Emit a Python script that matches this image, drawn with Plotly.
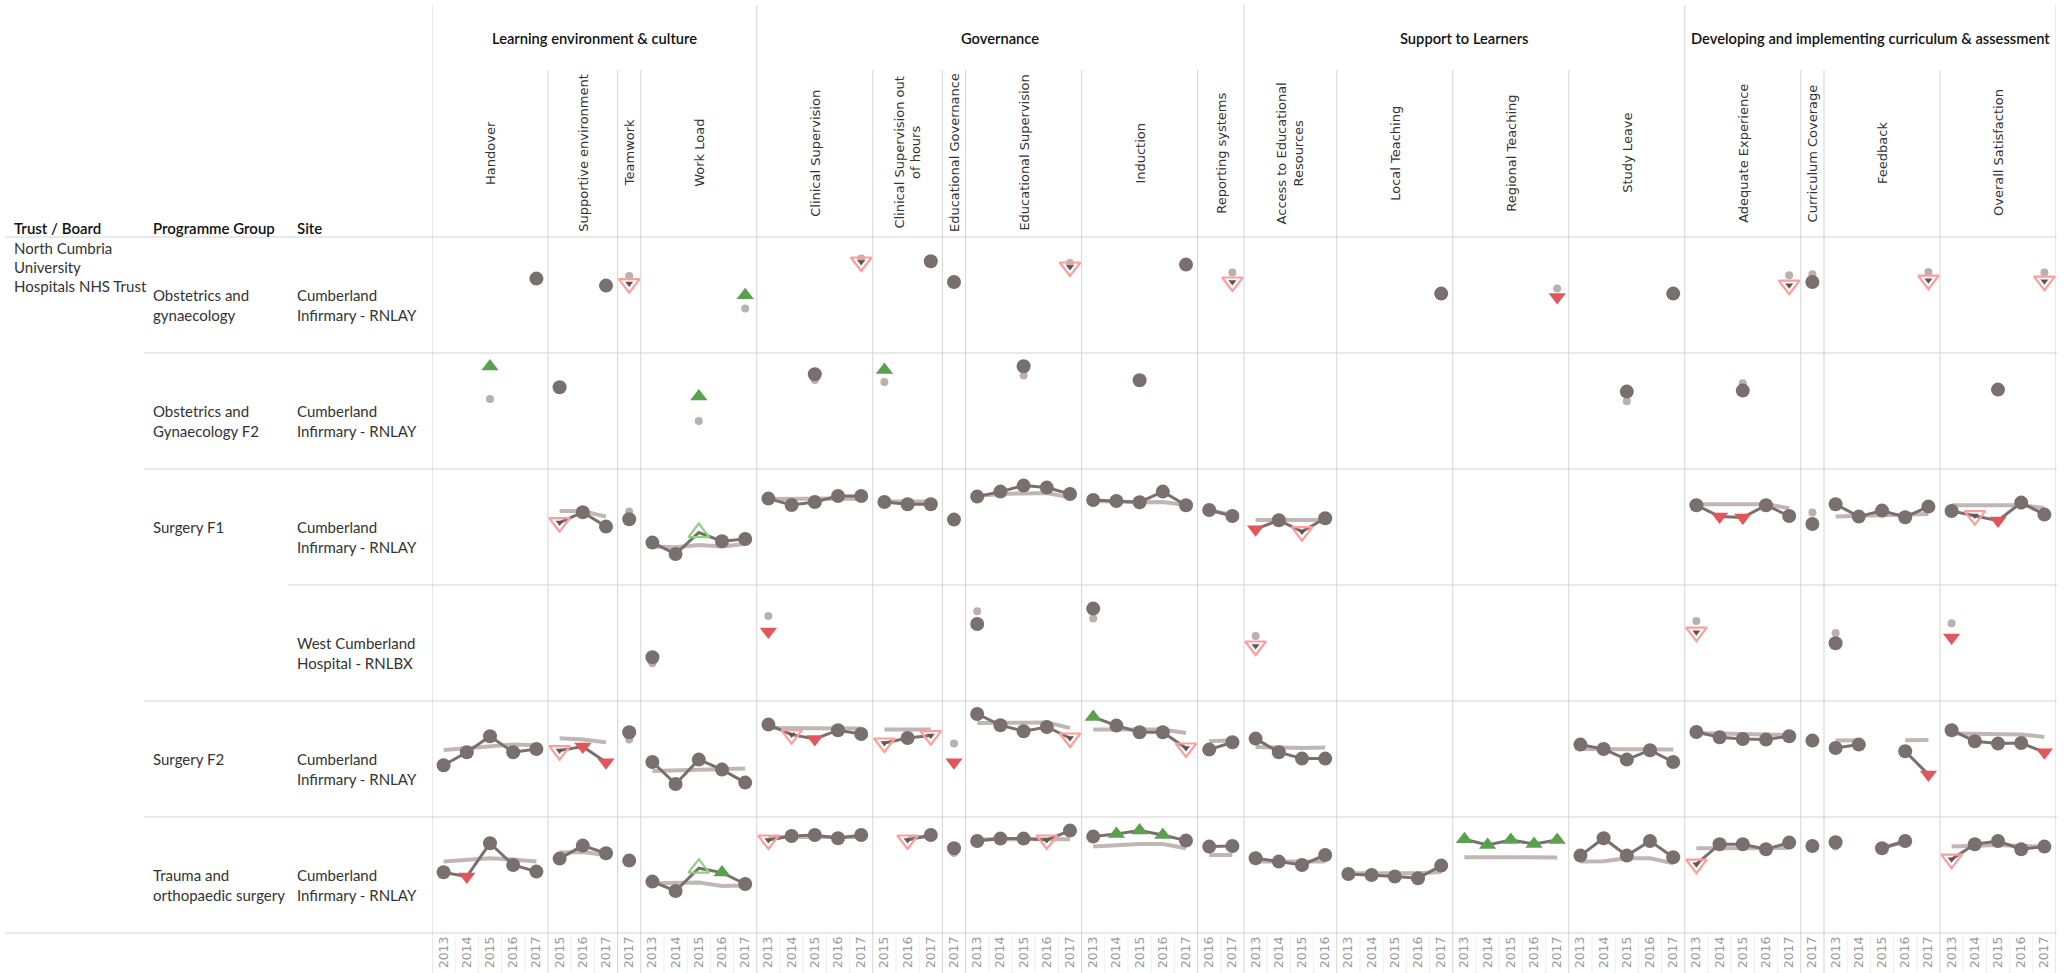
import plotly.graph_objects as go

# ---------------- data ----------------
MEASURE_KEYS = ["HO", "SE", "TW", "WL", "CS", "CO", "EG", "ES", "IN", "RS",
                "AE", "LT", "RT", "SL", "AX", "CC", "FB", "OS"]
MEASURE_LABELS = {
    "HO": "Handover", "SE": "Supportive environment", "TW": "Teamwork",
    "WL": "Work Load", "CS": "Clinical Supervision",
    "CO": "Clinical Supervision out<br>of hours", "EG": "Educational Governance",
    "ES": "Educational Supervision", "IN": "Induction", "RS": "Reporting systems",
    "AE": "Access to Educational<br>Resources", "LT": "Local Teaching",
    "RT": "Regional Teaching", "SL": "Study Leave", "AX": "Adequate Experience",
    "CC": "Curriculum Coverage", "FB": "Feedback", "OS": "Overall Satisfaction",
}
Y5 = [2013, 2014, 2015, 2016, 2017]
MEASURE_YEARS = {
    "HO": Y5, "SE": [2015, 2016, 2017], "TW": [2017], "WL": Y5, "CS": Y5,
    "CO": [2015, 2016, 2017], "EG": [2017], "ES": Y5, "IN": Y5, "RS": [2016, 2017],
    "AE": [2013, 2014, 2015, 2016], "LT": Y5, "RT": Y5, "SL": Y5, "AX": Y5,
    "CC": [2017], "FB": Y5, "OS": Y5,
}
GROUPS = [
    ("Learning environment & culture", ["HO", "SE", "TW", "WL"]),
    ("Governance", ["CS", "CO", "EG", "ES", "IN", "RS"]),
    ("Support to Learners", ["AE", "LT", "RT", "SL"]),
    ("Developing and implementing curriculum & assessment", ["AX", "CC", "FB", "OS"]),
]

TRUST_NAME = ["North Cumbria", "University", "Hospitals NHS Trust"]
PROGRAMMES = [["Obstetrics and", "gynaecology"], ["Obstetrics and", "Gynaecology F2"],
              ["Surgery F1"], [], ["Surgery F2"], ["Trauma and", "orthopaedic surgery"]]
SITES = [["Cumberland", "Infirmary - RNLAY"], ["Cumberland", "Infirmary - RNLAY"],
         ["Cumberland", "Infirmary - RNLAY"], ["West Cumberland", "Hospital - RNLBX"],
         ["Cumberland", "Infirmary - RNLAY"], ["Cumberland", "Infirmary - RNLAY"]]

# (trust score, national average, flag)
R1 = {
    "HO": {2017: (79.2, 79.0, "c")}, "SE": {2017: (75.7, 75.5, "c")},
    "TW": {2017: (76.7, 80.5, "dno")}, "WL": {2017: (70.9, 64.2, "up")},
    "CS": {2017: (87.5, 89.2, "dno")}, "CO": {2017: (87.9, 87.7, "c")},
    "EG": {2017: (77.5, 77.3, "c")}, "ES": {2017: (85.0, 87.0, "dno")},
    "IN": {2017: (86.2, 86.0, "c")}, "RS": {2017: (77.5, 82.2, "dno")},
    "LT": {2017: (71.7, 71.5, "c")}, "RT": {2017: (70.0, 74.2, "dn")},
    "SL": {2017: (71.7, 71.5, "c")}, "AX": {2017: (75.9, 80.9, "dno")},
    "CC": {2017: (77.5, 81.4, "c")}, "FB": {2017: (78.4, 82.5, "dno")},
    "OS": {2017: (77.9, 82.2, "dno")},
}
R2 = {
    "HO": {2015: (93.2, 77.0, "up")}, "SE": {2015: (82.9, 82.7, "c")},
    "WL": {2015: (78.2, 66.0, "up")}, "CS": {2015: (89.4, 86.5, "c")},
    "CO": {2015: (91.5, 85.5, "up")}, "ES": {2015: (93.4, 88.7, "c")},
    "IN": {2015: (86.4, 86.2, "c")}, "SL": {2015: (80.7, 75.9, "c")},
    "AX": {2015: (81.2, 84.9, "c")}, "OS": {2015: (81.7, 81.5, "c")},
}
R3 = {
    "SE": {2015: (73.2, 79.0, "dno"), 2016: (78.4, 79.0, "c"), 2017: (71.2, 76.2, "c")},
    "TW": {2017: (74.9, 78.7, "c")},
    "WL": {2013: (63.2, 61.2, "c"), 2014: (57.5, 60.9, "c"), 2015: (68.2, 62.0, "upo"),
           2016: (63.9, 61.2, "c"), 2017: (65.0, 62.5, "c")},
    "CS": {2013: (85.2, 85.0, "c"), 2014: (82.0, 85.2, "c"), 2015: (83.5, 85.3, "c"),
           2016: (86.5, 85.2, "c"), 2017: (86.5, 85.0, "c")},
    "CO": {2015: (83.5, 83.7, "c"), 2016: (82.4, 83.7, "c"), 2017: (82.4, 83.7, "c")},
    "EG": {2017: (74.7, 74.5, "c")},
    "ES": {2013: (86.2, 86.5, "c"), 2014: (88.7, 87.5, "c"), 2015: (91.7, 87.8, "c"),
           2016: (90.7, 88.0, "c"), 2017: (87.5, 85.8, "c")},
    "IN": {2013: (84.5, 84.0, "c"), 2014: (84.0, 83.5, "c"), 2015: (83.4, 83.4, "c"),
           2016: (88.7, 83.5, "c"), 2017: (81.9, 82.0, "c")},
    "RS": {2016: (79.5, 79.5, "c"), 2017: (76.5, 77.0, "c")},
    "AE": {2013: (69.9, 74.5, "dn"), 2014: (74.4, 74.5, "c"), 2015: (68.7, 74.5, "dno"),
           2016: (75.4, 74.5, "c")},
    "AX": {2013: (81.9, 82.4, "c"), 2014: (76.2, 82.5, "dn"), 2015: (75.7, 82.8, "dn"),
           2016: (81.9, 82.4, "c"), 2017: (76.5, 80.4, "c")},
    "CC": {2017: (72.5, 78.2, "c")},
    "FB": {2013: (82.4, 76.2, "c"), 2014: (76.2, 76.5, "c"), 2015: (79.2, 77.0, "c"),
           2016: (75.9, 77.3, "c"), 2017: (81.2, 77.5, "c")},
    "OS": {2013: (79.0, 81.9, "c"), 2014: (76.7, 82.0, "dno"), 2015: (74.2, 82.0, "dn"),
           2016: (83.2, 81.9, "c"), 2017: (77.2, 80.5, "c")},
}
R4 = {
    "WL": {2013: (63.9, 60.9, "c")}, "CS": {2013: (76.7, 84.5, "dn")},
    "ES": {2013: (80.5, 86.9, "c")}, "IN": {2013: (88.2, 83.2, "c")},
    "AE": {2013: (69.5, 74.5, "dno")}, "AX": {2013: (76.4, 82.0, "dno")},
    "FB": {2013: (70.9, 76.0, "c")}, "OS": {2013: (73.7, 80.9, "dn")},
}
R5 = {
    "HO": {2013: (67.9, 75.5, "c"), 2014: (74.4, 76.5, "c"), 2015: (82.4, 77.7, "c"),
           2016: (74.4, 78.2, "c"), 2017: (76.0, 77.9, "c")},
    "SE": {2015: (75.2, 81.4, "dno"), 2016: (77.2, 80.7, "dn"), 2017: (69.4, 79.4, "dn")},
    "TW": {2017: (84.4, 80.7, "c")},
    "WL": {2013: (69.5, 65.0, "c"), 2014: (58.5, 65.3, "c"), 2015: (70.7, 65.8, "c"),
           2016: (65.7, 66.0, "c"), 2017: (59.2, 66.3, "c")},
    "CS": {2013: (88.2, 86.5, "c"), 2014: (83.2, 86.5, "dno"), 2015: (81.0, 86.5, "dn"),
           2016: (85.4, 86.5, "c"), 2017: (83.5, 86.3, "c")},
    "CO": {2015: (79.0, 85.7, "dno"), 2016: (81.5, 85.7, "c"), 2017: (82.7, 85.7, "dno")},
    "EG": {2017: (69.4, 78.7, "dn")},
    "ES": {2013: (93.5, 89.0, "c"), 2014: (87.9, 89.0, "c"), 2015: (84.9, 89.0, "c"),
           2016: (87.0, 89.3, "c"), 2017: (81.5, 86.5, "dno")},
    "IN": {2013: (92.0, 85.7, "up"), 2014: (87.7, 85.7, "c"), 2015: (84.4, 85.7, "c"),
           2016: (84.4, 85.7, "c"), 2017: (76.5, 84.0, "dno")},
    "RS": {2016: (75.7, 79.9, "c"), 2017: (79.4, 80.4, "c")},
    "AE": {2013: (81.2, 77.0, "c"), 2014: (74.4, 76.5, "c"), 2015: (71.2, 76.5, "c"),
           2016: (71.2, 76.8, "c")},
    "SL": {2013: (78.2, 76.0, "c"), 2014: (76.0, 75.9, "c"), 2015: (70.7, 75.7, "c"),
           2016: (75.4, 75.7, "c"), 2017: (69.5, 75.7, "c")},
    "AX": {2013: (84.5, 84.0, "c"), 2014: (81.9, 83.5, "c"), 2015: (81.0, 83.5, "c"),
           2016: (80.7, 83.3, "c"), 2017: (82.4, 83.0, "c")},
    "CC": {2017: (80.2, 80.0, "c")},
    "FB": {2013: (76.5, 80.2, "c"), 2014: (78.2, 80.4, "c"), 2016: (74.9, 80.4, "c"),
           2017: (63.2, 80.5, "dn")},
    "OS": {2013: (85.4, 83.7, "c"), 2014: (79.9, 83.5, "c"), 2015: (78.7, 83.5, "c"),
           2016: (79.0, 83.3, "c"), 2017: (74.4, 82.0, "dn")},
}
R6 = {
    "HO": {2013: (72.4, 77.7, "c"), 2014: (70.2, 78.5, "dn"), 2015: (86.9, 79.4, "c"),
           2016: (76.0, 78.8, "c"), 2017: (72.7, 77.7, "c")},
    "SE": {2015: (79.2, 82.2, "c"), 2016: (85.7, 82.5, "c"), 2017: (81.9, 81.0, "c")},
    "TW": {2017: (78.2, 78.0, "c")},
    "WL": {2013: (67.7, 66.9, "c"), 2014: (63.0, 67.3, "c"), 2015: (74.4, 67.3, "upo"),
           2016: (72.2, 65.5, "up"), 2017: (66.5, 65.8, "c")},
    "CS": {2013: (88.5, 90.0, "dno"), 2014: (90.5, 90.0, "c"), 2015: (91.0, 90.0, "c"),
           2016: (89.4, 90.0, "c"), 2017: (91.0, 90.0, "c")},
    "CO": {2016: (88.5, 90.0, "dno"), 2017: (91.0, 90.0, "c")},
    "EG": {2017: (84.4, 82.0, "c")},
    "ES": {2013: (88.0, 88.9, "c"), 2014: (89.2, 88.9, "c"), 2015: (89.2, 88.9, "c"),
           2016: (88.5, 88.9, "dno"), 2017: (93.2, 88.9, "c")},
    "IN": {2013: (90.2, 85.2, "c"), 2014: (91.5, 86.0, "up"), 2015: (93.2, 86.5, "up"),
           2016: (91.0, 86.5, "up"), 2017: (88.2, 84.4, "c")},
    "RS": {2016: (85.2, 81.0, "c"), 2017: (85.5, 81.0, "c")},
    "AE": {2013: (79.4, 77.7, "c"), 2014: (77.7, 77.7, "c"), 2015: (76.0, 77.7, "c"),
           2016: (81.0, 77.7, "c")},
    "LT": {2013: (71.5, 71.9, "c"), 2014: (71.0, 71.9, "c"), 2015: (70.2, 71.9, "c"),
           2016: (69.4, 71.9, "c"), 2017: (75.7, 72.5, "c")},
    "RT": {2013: (88.9, 79.9, "up"), 2014: (86.0, 79.9, "up"), 2015: (88.5, 80.0, "up"),
           2016: (86.5, 80.0, "up"), 2017: (88.5, 79.8, "up")},
    "SL": {2013: (80.7, 77.7, "c"), 2014: (89.4, 77.9, "c"), 2015: (80.7, 79.4, "c"),
           2016: (88.0, 79.4, "c"), 2017: (79.9, 76.9, "c")},
    "AX": {2013: (76.4, 84.4, "dno"), 2014: (86.4, 84.4, "c"), 2015: (86.4, 84.4, "c"),
           2016: (83.9, 84.5, "c"), 2017: (87.2, 84.5, "c")},
    "CC": {2017: (85.5, 85.3, "c")},
    "FB": {2013: (87.4, 85.2, "c"), 2015: (84.4, 84.6, "c"), 2016: (88.0, 87.5, "c")},
    "OS": {2013: (78.9, 85.2, "dno"), 2014: (86.4, 85.5, "c"), 2015: (88.0, 86.0, "c"),
           2016: (83.9, 85.5, "c"), 2017: (85.2, 85.2, "c")},
}
ROWS = [R1, R2, R3, R4, R5, R6]

# ---------------- layout constants ----------------
W, H = 2072, 973
PLOT_L, PLOT_R = 432, 2056
HEAD_B = 237
ROW_H = 116
Y_RANGE = [42, 100]
GRID = "#d3d3d3"
DARK = "#79706e"
NAT = "#bab0ac"
HEAD_FONT = "Lato"
AX_FONT = "DejaVu Sans"


def pyp(y):
    return 1 - y / H


def pxp(x):
    return x / W


starts = {}
s = 0
for k in MEASURE_KEYS:
    starts[k] = s
    s += len(MEASURE_YEARS[k])
N_SLOTS = s

fig = go.Figure()

STYLES = {
    "c": dict(symbol="circle", size=14, color=DARK),
    "up": dict(symbol="triangle-up", size=15, color="#59a14f"),
    "dn": dict(symbol="triangle-down", size=15, color="#e15759"),
    "dno": dict(symbol="triangle-down-open", size=18, color="#ff9d9a", line=dict(width=2.2, color="#ff9d9a")),
    "upo": dict(symbol="triangle-up-open", size=18, color="#8cd17d", line=dict(width=2.2, color="#8cd17d")),
}

for r, row in enumerate(ROWS):
    yref = "y" if r == 0 else f"y{r + 1}"
    nat_x, nat_y, tr_x, tr_y, iso_x, iso_y = [], [], [], [], [], []
    marks = {f: ([], []) for f in STYLES}
    for k in MEASURE_KEYS:
        d = row.get(k, {})
        yrs = MEASURE_YEARS[k]
        for i, yr in enumerate(yrs):
            x = starts[k] + i + 0.5
            if yr in d:
                t, n, f = d[yr]
                nat_x.append(x); nat_y.append(n)
                tr_x.append(x); tr_y.append(t)
                prev_ok = i > 0 and yrs[i - 1] in d
                next_ok = i < len(yrs) - 1 and yrs[i + 1] in d
                if not prev_ok and not next_ok:
                    iso_x.append(x); iso_y.append(n)
                marks[f][0].append(x); marks[f][1].append(t)
            else:
                nat_x.append(x); nat_y.append(None)
                tr_x.append(x); tr_y.append(None)
        nat_x.append(None); nat_y.append(None)
        tr_x.append(None); tr_y.append(None)

    fig.add_trace(go.Scatter(x=nat_x, y=nat_y, mode="lines", yaxis=yref,
                             line=dict(color=NAT, width=4), opacity=0.9,
                             hoverinfo="skip", showlegend=False))
    fig.add_trace(go.Scatter(x=iso_x, y=iso_y, mode="markers", yaxis=yref,
                             marker=dict(color=NAT, size=8), hoverinfo="skip",
                             showlegend=False))
    fig.add_trace(go.Scatter(x=tr_x, y=tr_y, mode="lines", yaxis=yref,
                             line=dict(color=DARK, width=3), hoverinfo="skip",
                             showlegend=False))
    for f in ["c", "up", "dn"]:
        xs, ys = marks[f]
        fig.add_trace(go.Scatter(x=xs, y=ys, mode="markers", yaxis=yref,
                                 marker=STYLES[f], showlegend=False))
    xs, ys = marks["dno"]
    fig.add_trace(go.Scatter(x=xs, y=ys, mode="markers", yaxis=yref,
                             marker=dict(symbol="triangle-down", size=7, color="#5d5654"),
                             hoverinfo="skip", showlegend=False))
    for f in ["dno", "upo"]:
        xs, ys = marks[f]
        fig.add_trace(go.Scatter(x=xs, y=ys, mode="markers", yaxis=yref,
                                 marker=STYLES[f], showlegend=False))

# axes
tickvals, ticktext = [], []
for k in MEASURE_KEYS:
    for i, yr in enumerate(MEASURE_YEARS[k]):
        tickvals.append(starts[k] + i + 0.5)
        ticktext.append(str(yr))

layout = dict(
    width=W, height=H, margin=dict(l=0, r=0, t=0, b=0),
    paper_bgcolor="white", plot_bgcolor="white", showlegend=False,
    xaxis=dict(domain=[pxp(PLOT_L), pxp(PLOT_R)], range=[0, N_SLOTS], anchor="y6",
               tickmode="array", tickvals=tickvals, ticktext=ticktext, tickangle=-90,
               tickfont=dict(family=AX_FONT, size=12.5, color="#9a9a9a"),
               showgrid=False, zeroline=False, showline=False, ticks="", fixedrange=True),
)
for r in range(6):
    top = HEAD_B + ROW_H * r
    key = "yaxis" if r == 0 else f"yaxis{r + 1}"
    layout[key] = dict(domain=[pyp(top + ROW_H), pyp(top)], range=Y_RANGE,
                       showgrid=False, zeroline=False, showticklabels=False,
                       showline=False, anchor="x", fixedrange=True)
fig.update_layout(**layout)

shapes = []


def hline(y, x0, x1, color=GRID):
    shapes.append(dict(type="line", xref="paper", yref="paper", x0=pxp(x0), x1=pxp(x1),
                       y0=pyp(y), y1=pyp(y), line=dict(color=color, width=1)))


def vline_slot(slot, y0, y1, color=GRID):
    shapes.append(dict(type="line", xref="x", yref="paper", x0=slot, x1=slot,
                       y0=pyp(y0), y1=pyp(y1), line=dict(color=color, width=1)))


hline(HEAD_B, 5, PLOT_R + 1)
hline(HEAD_B + ROW_H * 6, 5, PLOT_R + 1)
for r, x0 in zip(range(1, 6), [144, 144, 288, 144, 144]):
    hline(HEAD_B + ROW_H * r, x0, PLOT_R + 1)

group_starts = [starts[g[1][0]] for g in GROUPS] + [N_SLOTS]
for gs in group_starts:
    vline_slot(gs, 5, H)
for k in MEASURE_KEYS:
    st = starts[k]
    if st not in group_starts:
        vline_slot(st, 70, H)
    for j in range(1, len(MEASURE_YEARS[k])):
        vline_slot(st + j, HEAD_B + ROW_H * 6 + 2, H, color="#efefef")

annotations = []
for name, keys in GROUPS:
    a = starts[keys[0]]
    b = starts[keys[-1]] + len(MEASURE_YEARS[keys[-1]])
    annotations.append(dict(text=name, x=(a + b) / 2, xref="x", y=pyp(38), yref="paper",
                            showarrow=False, xanchor="center", yanchor="middle",
                            font=dict(family=HEAD_FONT, size=14.7, color="#111", weight=600)))
for k in MEASURE_KEYS:
    n = len(MEASURE_YEARS[k])
    annotations.append(dict(text=MEASURE_LABELS[k], x=starts[k] + n / 2, xref="x",
                            y=pyp(153), yref="paper", showarrow=False, textangle=-90,
                            xanchor="center", yanchor="middle", align="center",
                            font=dict(family=AX_FONT, size=13, color="#333")))

for text, x in [("Trust / Board", 12), ("Programme Group", 151), ("Site", 295)]:
    annotations.append(dict(text=text, x=pxp(x), xref="paper", y=pyp(228), yref="paper",
                            showarrow=False, xanchor="left", yanchor="middle",
                            font=dict(family=HEAD_FONT, size=15, color="#111", weight=600)))


def label_lines(lines, x, y_first, step):
    for i, t in enumerate(lines):
        annotations.append(dict(text=t, x=pxp(x), xref="paper", y=pyp(y_first + step * i),
                                yref="paper", showarrow=False, xanchor="left",
                                yanchor="middle",
                                font=dict(family=HEAD_FONT, size=15, color="#333")))


label_lines(TRUST_NAME, 12, 248, 19)
for r in range(6):
    top = HEAD_B + ROW_H * r
    label_lines(PROGRAMMES[r], 151, top + 58, 20)
    label_lines(SITES[r], 295, top + 58, 20)

fig.update_layout(shapes=shapes, annotations=annotations)

fig.write_html("out.html", config={"displayModeBar": False},
               post_script="document.body.style.margin='0';document.body.style.overflow='hidden';")
